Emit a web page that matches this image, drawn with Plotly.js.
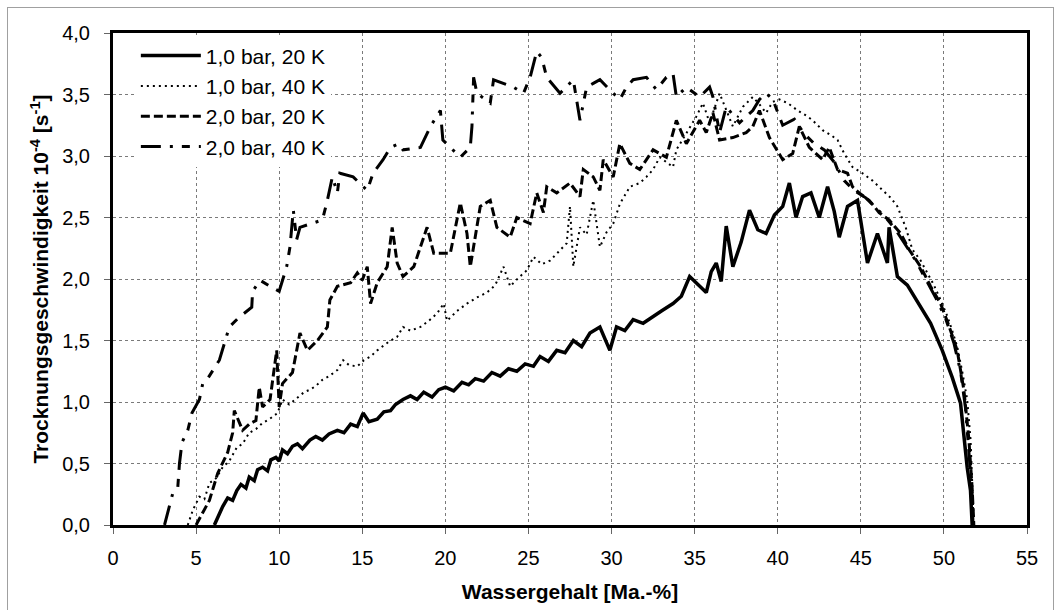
<!DOCTYPE html>
<html>
<head>
<meta charset="utf-8">
<script src="https://cdn.plot.ly/plotly-3.0.1.min.js"></script>
<style>
html,body{margin:0;padding:0;background:#fff;}
#wrap{position:relative;width:1059px;height:610px;overflow:hidden;}
#frame{position:absolute;left:7px;top:7px;width:1045px;height:640px;border:1px solid #a0a0a0;pointer-events:none;z-index:5;}
#chart{position:absolute;left:0;top:0;width:1059px;height:610px;}
</style>
</head>
<body>
<div id="wrap"><div id="chart"></div><div id="frame"></div></div>
<script>
// 1,0 bar, 20 K
const s1x = [
6.1,6.4,6.6,6.9,7.2,7.45,7.7,8.0,8.2,8.5,
8.7,9.0,9.3,9.5,9.8,10.0,10.2,10.5,10.8,11.1,
11.4,11.85,12.2,12.6,13.0,13.5,13.9,14.3,14.7,15.05,
15.4,15.9,16.3,16.7,17.0,17.45,17.9,18.3,18.7,19.2,
19.6,20.0,20.5,21.0,21.4,21.8,22.3,22.8,23.3,23.8,
24.3,24.8,25.3,25.7,26.2,26.7,27.2,27.7,28.2,28.7,
29.3,29.9,30.3,30.8,31.3,31.9,32.5,33.0,33.7,34.2,
34.7,35.2,35.7,36.0,36.3,36.6,36.9,37.3,37.8,38.3,
38.8,39.3,39.8,40.3,40.7,41.1,41.5,42.0,42.5,43.0,
43.4,43.7,44.2,44.8,45.4,46.0,46.6,46.7,47.2,47.8,
48.4,49.2,49.9,50.5,51.0,51.2,51.4,51.6,51.7];
const s1y = [
0.00,0.10,0.15,0.22,0.20,0.28,0.33,0.30,0.39,0.36,
0.45,0.47,0.44,0.53,0.55,0.52,0.61,0.58,0.64,0.66,
0.62,0.69,0.72,0.69,0.74,0.77,0.75,0.82,0.80,0.91,
0.84,0.86,0.92,0.93,0.98,1.02,1.05,1.02,1.08,1.04,
1.10,1.12,1.09,1.16,1.14,1.19,1.17,1.24,1.21,1.27,
1.25,1.31,1.29,1.37,1.33,1.42,1.40,1.50,1.45,1.56,
1.61,1.42,1.61,1.58,1.67,1.64,1.69,1.74,1.80,1.86,
2.02,1.95,1.89,2.06,2.13,1.98,2.43,2.10,2.30,2.56,
2.40,2.37,2.52,2.59,2.78,2.50,2.67,2.70,2.50,2.75,
2.55,2.34,2.59,2.64,2.13,2.37,2.13,2.42,2.02,1.95,
1.82,1.64,1.42,1.20,0.99,0.72,0.47,0.28,0.00];

// 1,0 bar, 40 K
const s2x = [
4.5,4.8,5.2,5.5,5.8,6.2,6.6,7.0,7.45,7.8,
8.2,8.6,9.0,9.4,9.9,10.2,10.6,11.1,11.5,11.85,
12.2,12.6,13.0,13.5,13.85,14.2,14.7,15.1,15.5,15.9,
16.2,16.6,17.1,17.45,17.9,18.5,19.0,19.5,19.9,20.1,
20.7,21.3,21.9,22.5,23.0,23.5,23.9,24.4,24.9,25.3,
25.8,26.3,26.8,27.3,27.5,27.7,28.1,28.5,28.9,29.3,
29.7,30.1,30.5,31.1,31.7,32.1,32.5,32.9,33.3,33.7,
33.9,34.5,35.1,35.5,35.9,36.5,36.9,37.3,37.9,38.5,
38.9,39.3,39.7,40.1,40.6,41.2,41.7,42.1,42.7,43.2,
43.6,44.0,44.5,45.1,45.7,46.3,46.8,47.2,47.7,48.1,
48.6,49.0,49.4,49.8,50.2,50.5,50.8,51.1,51.4,51.6,
51.7,51.8];
const s2y = [
0.00,0.12,0.23,0.21,0.34,0.38,0.47,0.52,0.63,0.66,
0.75,0.78,0.83,0.86,0.91,1.02,0.98,1.04,1.08,1.10,
1.13,1.18,1.21,1.26,1.34,1.30,1.29,1.34,1.37,1.42,
1.45,1.49,1.53,1.61,1.58,1.61,1.66,1.72,1.80,1.66,
1.74,1.80,1.85,1.89,1.95,2.10,1.94,2.01,2.07,2.18,
2.12,2.15,2.22,2.29,2.59,2.10,2.42,2.36,2.64,2.26,
2.38,2.45,2.61,2.75,2.78,2.83,2.89,2.99,2.95,2.91,
3.05,3.19,3.32,3.43,3.27,3.51,3.38,3.24,3.40,3.48,
3.42,3.35,3.44,3.46,3.43,3.37,3.33,3.29,3.21,3.17,
3.13,3.02,2.91,2.86,2.80,2.72,2.66,2.59,2.42,2.24,
2.15,2.05,1.95,1.83,1.70,1.58,1.45,1.25,1.02,0.70,
0.40,0.00];

// 2,0 bar, 20 K
const s3x = [
5.0,5.4,5.8,6.3,6.9,7.2,7.3,7.8,8.2,8.6,
8.8,9.0,9.45,9.85,10.0,10.2,10.8,11.25,11.7,12.3,
12.9,13.05,13.5,14.3,14.7,15.0,15.3,15.5,15.9,16.5,
16.8,17.1,17.45,18.1,18.9,19.3,20.3,20.9,21.3,21.5,
22.1,22.7,23.1,23.9,24.3,25.1,25.5,25.9,26.1,26.7,
27.5,28.1,28.3,28.9,29.3,29.5,30.1,30.5,31.1,31.7,
32.5,33.3,33.9,34.5,35.3,35.7,36.1,36.5,37.3,38.1,
38.5,38.9,39.5,40.3,40.9,41.3,41.9,42.7,43.1,43.6,
44.2,44.5,44.9,45.5,46.1,46.7,47.4,47.9,48.6,49.2,
49.8,50.3,50.8,51.2,51.5,51.7,51.8];
const s3y = [
0.00,0.10,0.20,0.42,0.59,0.75,0.93,0.77,0.82,0.85,
1.12,0.96,1.02,1.42,0.96,1.15,1.24,1.56,1.42,1.50,
1.61,1.83,1.94,1.97,2.05,1.99,2.10,1.80,1.97,2.10,
2.42,2.13,2.02,2.10,2.42,2.21,2.21,2.62,2.37,2.10,
2.59,2.64,2.42,2.34,2.50,2.45,2.70,2.54,2.75,2.70,
2.78,2.67,2.89,2.83,2.72,2.97,2.83,3.10,2.94,2.89,
3.05,2.99,3.29,3.10,3.29,3.19,3.35,3.13,3.15,3.19,
3.24,3.37,3.15,2.97,3.02,3.24,3.07,2.97,3.07,2.89,
2.86,2.75,2.70,2.64,2.54,2.48,2.37,2.24,2.10,1.94,
1.80,1.62,1.42,1.10,0.70,0.30,0.00];

// 2,0 bar, 40 K
const s4x = [
3.1,3.4,3.6,3.9,4.0,4.15,4.5,4.75,5.2,5.4,
5.65,6.4,6.75,7.0,7.6,8.35,8.4,8.85,9.45,10.0,
10.45,10.65,10.85,11.05,11.25,12.0,12.6,12.9,13.2,13.5,
13.65,14.45,14.7,15.3,15.65,16.25,16.7,17.2,17.45,18.5,
19.1,19.7,19.85,20.3,20.9,21.5,21.6,21.7,21.9,22.7,
22.9,24.1,24.7,25.1,25.5,25.8,26.1,26.9,27.7,28.1,
28.5,28.9,29.3,30.1,30.5,30.9,31.3,32.1,32.7,33.3,
33.7,33.9,34.5,35.3,35.9,36.1,36.5,36.9,37.7,38.5,
38.9,39.3,39.7,40.3,41.0,41.6,42.2,42.8,43.4,44.0,
44.6,45.3,45.9,46.5,47.1,47.7,48.3,48.9,49.5,50.1,
50.6,51.0,51.3,51.5,51.7,51.75];
const s4y = [
0.00,0.15,0.26,0.31,0.50,0.67,0.77,0.91,1.02,1.15,
1.18,1.34,1.50,1.61,1.69,1.77,1.90,1.99,1.94,1.90,
2.10,2.26,2.56,2.32,2.42,2.45,2.48,2.64,2.83,2.70,
2.86,2.83,2.80,2.72,2.86,2.97,3.07,3.10,3.05,3.07,
3.24,3.37,3.13,3.07,2.99,3.07,3.24,3.64,3.51,3.43,
3.62,3.56,3.51,3.64,3.85,3.80,3.64,3.51,3.62,3.29,
3.56,3.59,3.62,3.51,3.46,3.56,3.62,3.64,3.54,3.64,
3.67,3.48,3.56,3.48,3.56,3.48,3.19,3.40,3.27,3.37,
3.46,3.51,3.46,3.25,3.30,3.18,3.10,3.05,2.95,2.80,
2.72,2.66,2.58,2.50,2.40,2.28,2.15,2.00,1.85,1.68,
1.48,1.25,0.95,0.60,0.25,0.00];

const seriesNames = ['1,0 bar, 20 K','1,0 bar, 40 K','2,0 bar, 20 K','2,0 bar, 40 K'];
const xTicks = [0,5,10,15,20,25,30,35,40,45,50,55];
const yTicks = [0,0.5,1,1.5,2,2.5,3,3.5,4];

const FONT = 'Arial, "Liberation Sans", sans-serif';

const traces = [
  {x:s1x, y:s1y, name:seriesNames[0], mode:'lines', line:{color:'#000', width:3.5, dash:'solid'}},
  {x:s2x, y:s2y, name:seriesNames[1], mode:'lines', line:{color:'#000', width:2, dash:'2px,4px'}},
  {x:s3x, y:s3y, name:seriesNames[2], mode:'lines', line:{color:'#000', width:3, dash:'9px,4px'}},
  {x:s4x, y:s4y, name:seriesNames[3], mode:'lines', line:{color:'#000', width:3, dash:'20px,9px,3px,9px,8px,9px'}}
];

const axisCommon = {
  showgrid:true, gridcolor:'#7a7a7a', gridwidth:1, griddash:'dot',
  zeroline:false, showline:true, mirror:true, linecolor:'#000', linewidth:3,
  ticks:'outside', ticklen:6, tickwidth:1, tickcolor:'#666',
  tickfont:{family:FONT, size:20, color:'#000'}
};

const layout = {
  width:1059, height:610,
  margin:{l:113, r:32, t:33, b:85},
  paper_bgcolor:'#fff', plot_bgcolor:'#fff',
  font:{family:FONT, color:'#000', size:20},
  separators:',.',
  showlegend:true,
  xaxis:Object.assign({}, axisCommon, {
    range:[0,55], tickvals:xTicks, ticktext:xTicks.map(String),
    ticklabelstandoff:7,
    title:{text:'<b>Wassergehalt [Ma.-%]</b>', font:{family:FONT, size:21, color:'#000'}, standoff:17}
  }),
  yaxis:Object.assign({}, axisCommon, {
    range:[0,4], tickvals:yTicks, tickformat:'.1f',
    ticklabelstandoff:10,
    title:{text:'<b>Trocknungsgeschwindigkeit 10<sup>-4</sup> [s<sup>-1</sup>]</b>', font:{family:FONT, size:21, color:'#000'}, standoff:8}
  }),
  legend:{x:0.025, y:0.995, xanchor:'left', yanchor:'top', bgcolor:'#fff', borderwidth:0,
          font:{family:FONT, size:21, color:'#000'}, tracegroupgap:0, itemwidth:60}
};

Plotly.newPlot('chart', traces, layout, {displayModeBar:false, staticPlot:true});
</script>
</body>
</html>
